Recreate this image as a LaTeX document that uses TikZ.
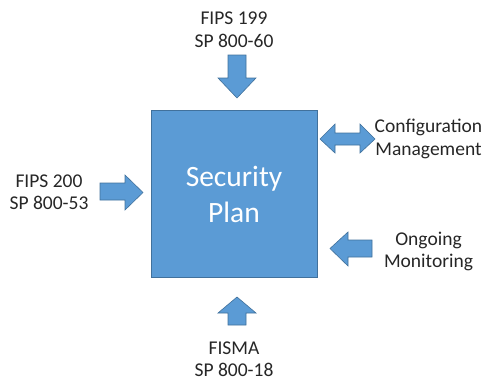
\documentclass[tikz,border=0pt]{standalone}
\usepackage{fontspec}
\setmainfont{Carlito}
\definecolor{planblue}{HTML}{5B9BD5}
\definecolor{planedge}{HTML}{41719C}
\definecolor{labeltext}{HTML}{262626}
\begin{document}
\begin{tikzpicture}[x=1pt,y=-1pt,
  blockarrow/.style={fill=planblue,draw=planedge,line width=0.6pt,line join=miter},
  lbl/.style={text=labeltext,align=center,inner sep=0pt,
    font=\fontsize{19.5}{22.5}\selectfont},
  planbox/.style={fill=planblue,draw=planedge,line width=0.8pt,inner sep=0pt,
    minimum width=166pt,minimum height=167pt},
  plantxt/.style={text=white,align=center,inner sep=0pt,
    font=\fontsize{29.5}{36}\selectfont}]
\useasboundingbox (0,0) rectangle (485,386);

% central plan box
\node[planbox] (plan) at (234,193.5) {};
\node[plantxt] (plantext) at (234,194.5) {Security\\Plan};

% inputs and their labels
\node[lbl] (fips199) at (234,29.5) {FIPS 199\\SP 800-60};
\node[lbl] (fips200) at (49,192) {FIPS 200\\SP 800-53};
\node[lbl] (config)  at (428.5,139) {Configuration\\Management};
\node[lbl] (monitor) at (428.5,251.5) {Ongoing\\Monitoring};
\node[lbl] (fisma)   at (234,359) {FISMA\\SP 800-18};

% arrow from above, pointing down
\draw[blockarrow] (228,55) -- (246,55) -- (246,78) -- (256,78) -- (237,98)
  -- (218,78) -- (228,78) -- cycle;
% arrow from the left, pointing right
\draw[blockarrow] (100,183) -- (125,183) -- (125,175) -- (143,192.5)
  -- (125,210) -- (125,200) -- (100,200) -- cycle;
% two-way arrow for configuration management
\draw[blockarrow] (320,139) -- (335,124) -- (335,133) -- (360,133) -- (360,124)
  -- (375,139) -- (360,153) -- (360,145) -- (335,145) -- (335,153) -- cycle;
% arrow from ongoing monitoring, pointing left
\draw[blockarrow] (330,248.5) -- (348,232) -- (348,240) -- (372,240) -- (372,257)
  -- (348,257) -- (348,266) -- cycle;
% arrow from below, pointing up
\draw[blockarrow] (237,297) -- (256,313) -- (246,313) -- (246,325) -- (228,325)
  -- (228,313) -- (218,313) -- cycle;
\end{tikzpicture}
\end{document}
